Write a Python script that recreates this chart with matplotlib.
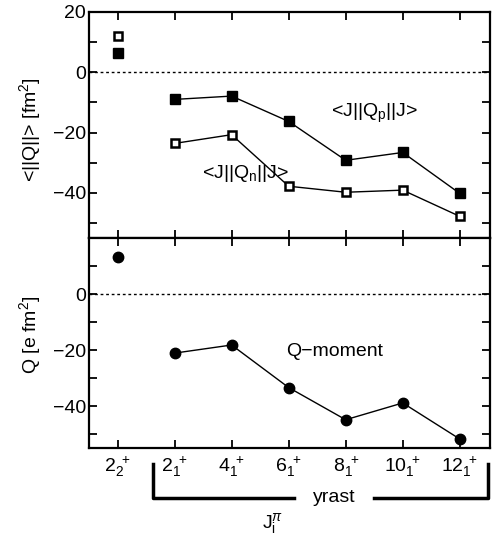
import matplotlib
matplotlib.use('Agg')
import matplotlib.pyplot as plt
import numpy as np

plt.rcParams['font.family'] = ['Liberation Sans', 'DejaVu Sans']
plt.rcParams['mathtext.fontset'] = 'custom'
plt.rcParams['mathtext.rm'] = 'Liberation Sans'
plt.rcParams['mathtext.it'] = 'Liberation Sans:italic'
plt.rcParams['mathtext.bf'] = 'Liberation Sans:bold'

# 数据
states = [r'$2_2^{\ +}$', r'$2_1^{\ +}$', r'$4_1^{\ +}$', r'$6_1^{\ +}$',
          r'$8_1^{\ +}$', r'$10_1^{\ +}$', r'$12_1^{\ +}$']
qp = [6.4, -9.0, -7.9, -16.3, -29.2, -26.6, -40.2]
qn = [11.9, -23.6, -20.7, -37.8, -39.8, -39.1, -47.8]
qmom = [13.2, -21.1, -18.2, -33.4, -44.9, -38.9, -51.8]

x = np.arange(len(states))

fig = plt.figure(figsize=(4.93, 5.35), dpi=100)
ax1 = fig.add_axes([0.1805, 0.555, 0.8135, 0.4226])
ax2 = fig.add_axes([0.1805, 0.1626, 0.8135, 0.3924])

fs = 14
# 上图：质子/中子约化矩阵元
ax1.plot(x[1:], qp[1:], 'k-', lw=1)
ax1.plot(x, qp, 'ks', ms=7, ls='none')
ax1.plot(x[1:], qn[1:], 'k-', lw=1)
ax1.plot(x, qn, 's', ms=6, mfc='white', mec='black', mew=1.8, ls='none')
ax1.axhline(0, color='k', lw=1, ls=(0, (2, 2)))
ax1.set_ylim(-55, 20)
ax1.set_yticks([20, 0, -20, -40])
ax1.set_yticks([10, -10, -30, -50], minor=True)
ax1.set_ylabel(r'<||Q||> [fm$^2$]', fontsize=fs)
ax1.yaxis.set_label_coords(-0.115, 0.48)
ax1.text(4.5, -13.5, r'<J||Q$_\mathrm{p}$||J>', fontsize=fs, ha='center', va='center')
ax1.text(2.25, -33.5, r'<J||Q$_\mathrm{n}$||J>', fontsize=fs, ha='center', va='center')

# 下图：四极矩
ax2.plot(x[1:], qmom[1:], 'k-', lw=1)
ax2.plot(x, qmom, 'ko', ms=7.5, ls='none')
ax2.axhline(0, color='k', lw=1, ls=(0, (2, 2)))
ax2.set_ylim(-55, 20)
ax2.set_yticks([20, 0, -20, -40])
ax2.set_yticks([10, -10, -30, -50], minor=True)
ax2.set_ylabel(r'Q [e fm$^2$]', fontsize=fs)
ax2.yaxis.set_label_coords(-0.115, 0.54)
ax2.text(3.8, -20.5, 'Q\u2212moment', fontsize=fs, ha='center', va='center')

for ax in (ax1, ax2):
    ax.set_xlim(-0.5, 6.53)
    ax.set_xticks(x)
    ax.tick_params(which='both', direction='in', top=True, right=True,
                   labelsize=fs, width=1.3, length=6, pad=2)
    ax.tick_params(axis='x', pad=5)
    for s in ax.spines.values():
        s.set_linewidth(1.6)
ax1.set_xticklabels([])
ax2.set_xticklabels(states, fontsize=fs)
ax2.set_yticklabels(['', '0', '\u221220', '\u221240'])
ax1.set_yticklabels(['20', '0', '\u221220', '\u221240'])

# yrast 括号
tr = ax2.get_xaxis_transform()
ax2.plot([0.63, 0.63, 3.1], [-0.076, -0.238, -0.238], 'k-', lw=2.5,
         transform=tr, clip_on=False)
ax2.plot([4.5, 6.49, 6.49], [-0.238, -0.238, -0.076], 'k-', lw=2.5,
         transform=tr, clip_on=False)
ax2.text(3.8, -0.235, 'yrast', fontsize=fs, ha='center', va='center', transform=tr)
ax2.text(2.72, -0.36, r'J$_\mathrm{i}^{\pi}$', fontsize=fs, ha='center', va='center',
         transform=tr)

fig.savefig('out.png', dpi=100)
